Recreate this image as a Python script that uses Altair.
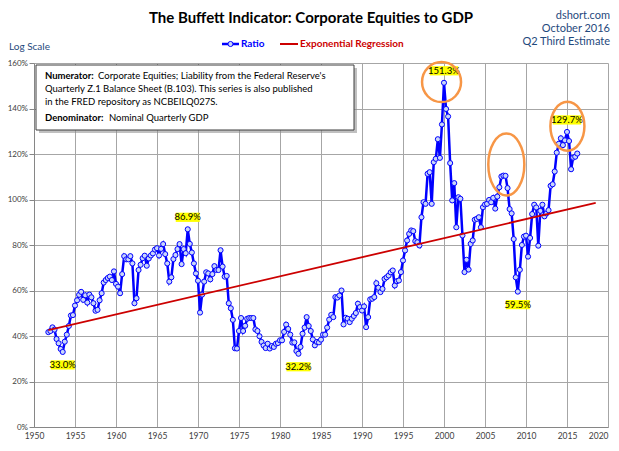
import altair as alt
import pandas as pd

# ---------------- data ----------------
first_quarter = 1951.75          # 1951 Q4
quarter_step = 0.25
ratio = [
    41.7, 42.2, 43.8, 42.8, 38.7, 36.8, 34.3, 33.0, 37.5, 40.6,
    44.4, 49.0, 49.2, 53.4, 55.7, 58.1, 59.4, 55.9, 57.9, 54.7,
    58.2, 57.0, 54.4, 51.1, 51.5, 55.7, 58.8, 63.5, 64.6, 65.5,
    66.1, 64.6, 68.4, 62.9, 61.7, 58.8, 67.2, 75.1, 73.7, 73.7,
    75.1, 71.9, 54.4, 56.6, 69.0, 71.3, 74.2, 75.3, 70.9, 74.1,
    75.4, 76.3, 78.0, 78.6, 75.4, 78.3, 80.4, 76.0, 71.9, 63.9,
    65.8, 73.8, 75.6, 78.2, 80.4, 71.6, 78.2, 76.4, 86.9, 80.5,
    76.7, 71.9, 67.5, 64.3, 50.3, 58.2, 63.9, 68.0, 67.5, 64.9,
    67.2, 70.7, 69.0, 69.0, 77.7, 70.5, 66.1, 66.4, 54.4, 52.2,
    47.1, 34.6, 34.5, 42.2, 47.9, 42.2, 44.5, 47.6, 47.9, 47.9,
    47.9, 42.9, 42.2, 39.9, 37.4, 35.8, 34.7, 36.6, 34.5, 35.6,
    35.2, 36.6, 36.9, 38.1, 38.1, 41.8, 45.0, 43.1, 40.6, 37.1,
    37.2, 33.4, 32.2, 35.2, 41.0, 43.7, 48.3, 44.4, 42.2, 38.5,
    35.9, 37.4, 37.2, 38.4, 40.6, 40.6, 43.7, 47.2, 49.3, 48.3,
    57.1, 56.9, 57.8, 60.0, 45.1, 48.0, 47.6, 46.1, 47.6, 48.8,
    50.1, 54.2, 52.7, 51.2, 53.0, 43.9, 48.3, 56.1, 56.4, 57.1,
    63.2, 61.2, 59.3, 60.7, 65.1, 65.8, 66.6, 68.0, 68.8, 62.2,
    64.1, 64.4, 68.1, 73.2, 77.6, 82.0, 84.9, 86.4, 86.1, 81.7,
    81.2, 79.8, 92.2, 98.8, 98.1, 111.3, 112.0, 98.1, 116.4, 117.9,
    126.5, 118.3, 133.0, 151.3, 139.8, 136.5, 116.0, 99.6, 107.2, 87.8,
    101.0, 100.3, 84.2, 68.1, 73.5, 69.2, 80.5, 82.0, 91.1, 91.5,
    92.2, 87.8, 96.6, 97.8, 98.1, 99.8, 98.8, 100.7, 96.0, 101.3,
    105.4, 110.1, 110.5, 110.4, 105.0, 95.8, 93.9, 82.6, 65.8, 59.5,
    69.1, 80.0, 83.7, 84.1, 74.9, 83.1, 93.6, 97.7, 96.5, 79.7,
    95.0, 97.7, 92.6, 93.9, 95.3, 106.0, 106.7, 112.3, 120.6, 124.5,
    126.9, 123.9, 126.0, 129.7, 125.7, 113.3, 118.4, 118.8, 120.2,
]

reg_years = [1951.75, 2018.5]
reg_values = [42.6, 98.5]

label_text = ["33.0%", "86.9%", "32.2%", "151.3%", "59.5%", "129.7%"]
label_quarter = [7, 68, 122, 193, 229, 253]
label_side = ["below", "above", "below", "above", "below", "above"]

ellipse_years = [1999.7, 2007.6, 2015.05]
ellipse_values = [151.6, 115.4, 132.2]
ellipse_w = [39, 36, 34]
ellipse_h = [40, 62, 49]

x_ticks = list(range(1950, 2021, 5))
y_ticks = list(range(0, 161, 20))

# ---------------- tables ----------------
years = [first_quarter + quarter_step * i for i in range(len(ratio))]
df = pd.DataFrame({"year": years, "ratio": ratio})
reg_df = pd.DataFrame({"year": reg_years, "ratio": reg_values})

BOX_SIZE = 784          # symbol size -> 14 px per path unit


def box_path(t):
    a = (len(t) * 4.4 + 2.0) / 2 / 14
    b = 4.6 / 14
    return "M-{a:.3f},-{b:.3f}L{a:.3f},-{b:.3f}L{a:.3f},{b:.3f}L-{a:.3f},{b:.3f}Z".format(a=a, b=b)


lab_df = pd.DataFrame({
    "year": [years[i] for i in label_quarter],
    "ratio": [ratio[i] for i in label_quarter],
    "text": label_text,
    "side": label_side,
    "box": [box_path(t) for t in label_text],
})

ell_df = pd.DataFrame({
    "year": ellipse_years,
    "ratio": ellipse_values,
    "shape": ["M-{a:.3f},0A{a:.3f},1 0 1,0 {a:.3f},0A{a:.3f},1 0 1,0 -{a:.3f},0Z".format(a=w / h)
              for w, h in zip(ellipse_w, ellipse_h)],
    "size": [h * h for h in ellipse_h],
})

one = pd.DataFrame({"k": [0]})

FONT = "Lato"
X = alt.X("year:Q", scale=alt.Scale(domain=[1950, 2020], nice=False, zero=False),
          axis=alt.Axis(values=x_ticks, format="d", title=None, ticks=False,
                        labelPadding=4, labelFontSize=8.5,
                        labelAlign={"condition": {"test": "datum.value == 2020", "value": "right"}, "value": "center"}))
Y = alt.Y("ratio:Q", scale=alt.Scale(domain=[0, 160], nice=False),
          axis=alt.Axis(values=y_ticks, labelExpr="datum.value + '%'", title=None,
                        tickSize=5, labelPadding=1.5, labelFontSize=8))

reg = alt.Chart(reg_df).mark_line(color="#CC0000", strokeWidth=1.8).encode(x=X, y=Y)
line = alt.Chart(df).mark_line(color="#0000FF", strokeWidth=2.5).encode(x=X, y=Y)
pts = alt.Chart(df).mark_point(filled=True, fill="#C9D6FA", stroke="#0000FF",
                               strokeWidth=1, size=26, opacity=1).encode(x=X, y=Y)


def label_layer(side, dy):
    base = alt.Chart(lab_df).transform_filter(alt.datum.side == side)
    box = base.mark_point(filled=True, fill="#FFFF00", strokeWidth=0, opacity=1,
                          size=BOX_SIZE, yOffset=dy).encode(
        x=X, y=Y, shape=alt.Shape("box:N", scale=None))
    txt = base.mark_text(font=FONT, fontSize=9.5, color="black", dy=dy,
                         baseline="middle").encode(x=X, y=Y, text="text:N")
    return [box, txt]


ells = alt.Chart(ell_df).mark_point(filled=False, stroke="#F79646", strokeWidth=2.5,
                                    opacity=1).encode(
    x=X, y=Y, shape=alt.Shape("shape:N", scale=None), size=alt.Size("size:Q", scale=None))


def txt(s, x, y, align="left", **kw):
    return alt.Chart(one).mark_text(text=s, align=align, baseline="middle", font=FONT, **kw).encode(
        x=alt.value(x), y=alt.value(y))


def rect(x, x2, y, y2, **kw):
    return alt.Chart(one).mark_rect(**kw).encode(
        x=alt.value(x), x2=alt.value(x2), y=alt.value(y), y2=alt.value(y2))


def hrule(x, x2, y, **kw):
    return alt.Chart(one).mark_rule(**kw).encode(x=alt.value(x), x2=alt.value(x2), y=alt.value(y))


navy = "#1F497D"
layers = [
    line, pts, reg,
    *label_layer("above", -12),
    *label_layer("below", 13),
    ells,
    # note box
    rect(5, 323, 5, 70, fill="#8c8c8c", opacity=0.55),
    rect(2, 320, 2, 67, fill="white", stroke="#3f3f3f", strokeWidth=1),
    txt("Numerator:", 11, 13, fontSize=9.5, fontWeight="bold", color="black"),
    txt("Corporate Equities; Liability from the Federal Reserve's", 64, 13, fontSize=9.5, color="black"),
    txt("Quarterly Z.1 Balance Sheet (B.103). This series is also published", 11, 26, fontSize=9.5, color="black"),
    txt("in the FRED repository as NCBEILQ027S.", 11, 39, fontSize=9.5, color="black"),
    txt("Denominator:", 11, 55, fontSize=9.5, fontWeight="bold", color="black"),
    txt("Nominal Quarterly GDP", 75, 55, fontSize=9.5, color="black"),
    # titles
    txt("The Buffett Indicator: Corporate Equities to GDP", 277, -45, align="center",
        fontSize=15, fontWeight="bold", color="black"),
    txt("dshort.com", 576, -47, align="right", fontSize=11, color=navy),
    txt("October 2016", 576, -34, align="right", fontSize=11, color=navy),
    txt("Q2 Third Estimate", 576, -21, align="right", fontSize=11, color=navy),
    txt("Log Scale", -25, -16, fontSize=10, color=navy),
    # legend
    hrule(188, 205, -19, color="#0000FF", strokeWidth=2.5),
    alt.Chart(one).mark_point(filled=True, fill="#C9D6FA", stroke="#0000FF", strokeWidth=1,
                              size=26, opacity=1).encode(x=alt.value(196.5), y=alt.value(-19)),
    txt("Ratio", 207, -19, fontSize=10, fontWeight="bold", color="#0000FF"),
    hrule(246, 264, -19, color="#CC0000", strokeWidth=2),
    txt("Exponential Regression", 266, -19, fontSize=10, fontWeight="bold", color="#CC0000"),
]

chart = alt.layer(*layers).properties(
    width=574, height=364,
    padding={"left": 26, "top": 55, "right": 3, "bottom": 16},
    autosize=alt.AutoSizeParams(type="none"),
).configure_view(strokeWidth=0).configure_axis(
    domainColor="#868686", gridColor="#A6A6A6", tickColor="#868686",
    labelColor="#404040", labelFont=FONT, gridWidth=1,
)

chart.save("out.html", embed_options={"renderer": "svg", "actions": False})
